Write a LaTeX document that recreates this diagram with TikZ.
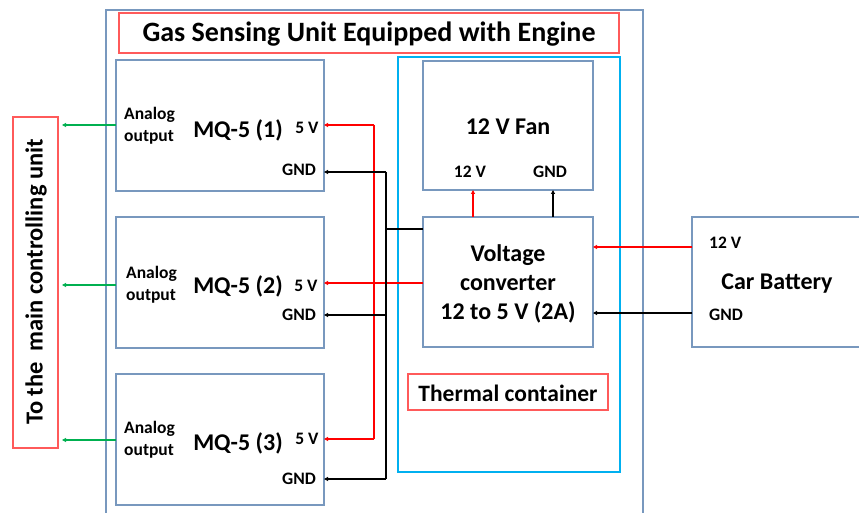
\documentclass[tikz,border=0pt]{standalone}
\usepackage{fontspec}
\setmainfont{Carlito}
\usetikzlibrary{arrows.meta}
\definecolor{boxc}{RGB}{120,152,190}
\definecolor{cyanc}{RGB}{0,176,240}
\definecolor{redc}{RGB}{255,0,0}
\definecolor{redbox}{RGB}{255,90,90}
\definecolor{greenc}{RGB}{0,176,80}
\tikzset{
  blk/.style={draw=boxc, line width=1.2pt, inner sep=0pt, outer sep=0pt, anchor=north west},
  rbox/.style={draw=redbox, line width=1.2pt, inner sep=0pt, outer sep=0pt, anchor=north west},
  big/.style={font=\fontsize{24}{29}\selectfont\bfseries, align=center, inner sep=0pt},
  small/.style={font=\fontsize{17.5}{22}\selectfont\bfseries, align=left, inner sep=0pt},
  conn/.style={line width=1.6pt, -{Triangle[length=4pt,width=4pt]}},
  gline/.style={conn, draw=greenc, fill=greenc},
  rline/.style={conn, draw=redc, fill=redc},
  kline/.style={conn, draw=black, fill=black},
}
\begin{document}
\begin{tikzpicture}[x=1pt,y=-1pt]
\useasboundingbox (0,0) rectangle (859,513);
% outer unit box (bottom edge not visible)
\draw[boxc, line width=1.2pt] (106,520) -- (106,10) -- (643,10) -- (643,520);
% title
\node[rbox, minimum width=500pt, minimum height=40pt] (title) at (119,13) {};
\node[big, font=\fontsize{28}{32}\selectfont\bfseries] at (369,34) {Gas Sensing Unit Equipped with Engine};
% thermal container
\node[draw=cyanc, line width=1.6pt, inner sep=0pt, outer sep=0pt, anchor=north west, minimum width=222pt, minimum height=415pt] (therm) at (398,57) {};
\node[blk, minimum width=170pt, minimum height=129pt] (fan) at (423,61) {};
\node[big] at (508,127) {12 V Fan};
\node[small] at (470,172) {12 V};
\node[small] at (550,172) {GND};
\node[blk, minimum width=170pt, minimum height=130pt] (conv) at (423,217) {};
\node[big] at (508,284) {Voltage\\converter\\12 to 5 V (2A)};
\node[rbox, minimum width=200pt, minimum height=36pt] (tclab) at (408,374) {};
\node[big, font=\fontsize{23.5}{28}\selectfont\bfseries] at (508,393) {Thermal container};
% car battery
\node[blk, minimum width=180pt, minimum height=130pt] (bat) at (692,217) {};
\node[small, anchor=west] at (709,243) {12 V};
\node[big] at (777,284) {Car Battery};
\node[small, anchor=west] at (709,315) {GND};
% sensors
\node[blk, minimum width=208pt, minimum height=131pt] (mqa) at (116,60) {};
\node[blk, minimum width=208pt, minimum height=131pt] (mqb) at (116,217) {};
\node[blk, minimum width=208pt, minimum height=131pt] (mqc) at (116,374) {};
\node[small, anchor=west] at (124,126) {Analog\\output};
\node[small, anchor=west] at (126,285) {Analog\\output};
\node[small, anchor=west] at (124,440) {Analog\\output};
\node[big] at (238,130) {MQ-5 (1)};
\node[big] at (238,286) {MQ-5 (2)};
\node[big] at (238,443) {MQ-5 (3)};
\node[small] at (307,128) {5 V};
\node[small] at (306,286) {5 V};
\node[small] at (307,439) {5 V};
\node[small] at (299,170) {GND};
\node[small] at (299,315) {GND};
\node[small] at (299,479) {GND};
% main controlling unit
\node[rbox, minimum width=45pt, minimum height=331pt] (ctrl) at (13,117) {};
\node[big, rotate=90, font=\fontsize{24.5}{28}\selectfont\bfseries] at (36,282) {To the\ \ main controlling unit};
% analog outputs
\draw[gline] (mqa.west |- 0,125) -- ([xshift=4pt]ctrl.east |- 0,125);
\draw[gline] (mqb.west |- 0,285) -- ([xshift=4pt]ctrl.east |- 0,285);
\draw[gline] (mqc.west |- 0,440) -- ([xshift=4pt]ctrl.east |- 0,440);
% 5 V bus
\coordinate (rtop) at (374,125);
\coordinate (rbot) at (374,439);
\draw[redc, line width=1.6pt] (rtop) -- (rbot);
\draw[rline] (rtop) -- (mqa.east |- rtop);
\draw[rline] (rbot) -- (mqc.east |- rbot);
\draw[rline] (conv.west |- 0,283) -- (mqb.east |- 0,283);
% GND bus
\coordinate (ktop) at (386,172);
\coordinate (kbot) at (386,479);
\coordinate (kmid) at (386,229);
\coordinate (kb) at (386,315);
\draw[black, line width=1.6pt] (ktop) -- (kbot);
\draw[black, line width=1.6pt] (conv.west |- kmid) -- (kmid);
\draw[kline] (ktop) -- (mqa.east |- ktop);
\draw[kline] (kb) -- (mqb.east |- kb);
\draw[kline] (kbot) -- (mqc.east |- kbot);
% fan supply
\draw[rline] (conv.north -| 473,0) -- (fan.south -| 473,0);
\draw[kline] (conv.north -| 553,0) -- (fan.south -| 553,0);
% battery
\draw[rline] (bat.west |- 0,247) -- (conv.east |- 0,247);
\draw[kline] (bat.west |- 0,313) -- (conv.east |- 0,313);
\end{tikzpicture}
\end{document}
